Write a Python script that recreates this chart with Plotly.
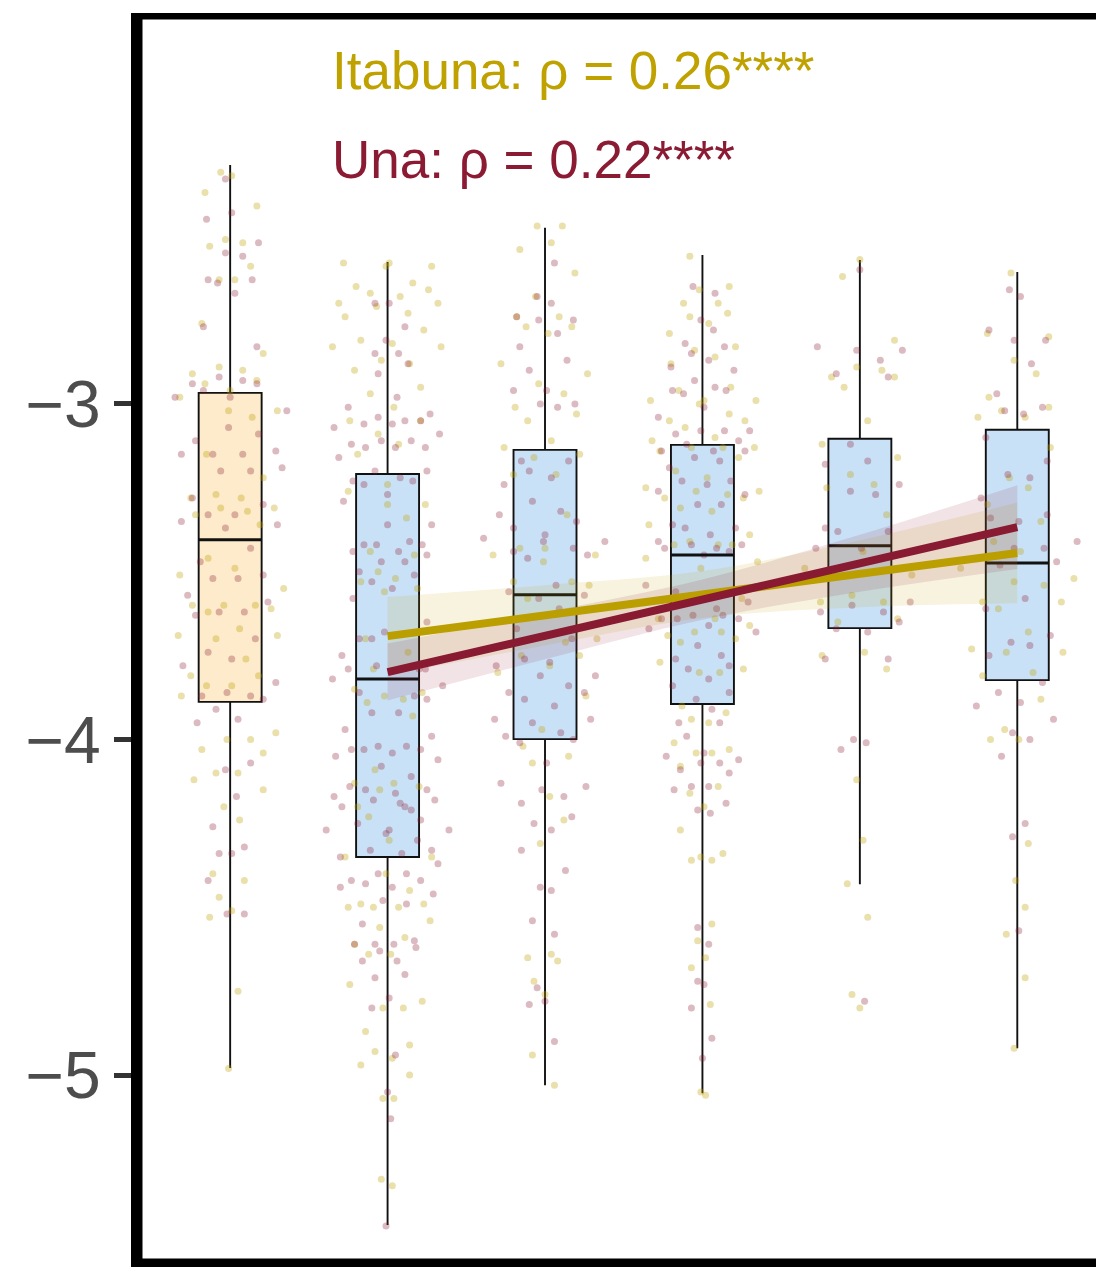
import plotly.graph_objects as go

# ---------------- data ----------------
CATS = [1, 2, 3, 4, 5, 6]
Q1 = [-3.888, -4.350, -3.999, -3.894, -3.668, -3.823]
MED = [-3.405, -3.820, -3.569, -3.450, -3.423, -3.474]
Q3 = [-2.967, -3.209, -3.137, -3.122, -3.104, -3.077]
LOW = [-4.979, -5.447, -5.030, -5.054, -4.431, -4.920]
HIGH = [-2.288, -2.577, -2.475, -2.556, -2.571, -2.607]
BOX_GROUP = ["ref", "b", "b", "b", "b", "b"]

# jittered observations: (horizontal offset from category, value)
ITA_1 = [(-0.06,-2.31),(0.01,-2.32),(-0.16,-2.37),(0.17,-2.41),(-0.13,-2.53),(-0.03,-2.51),(0.08,-2.52),(0.13,-2.59),(-0.07,-2.63),(0.03,-2.63),(-0.18,-2.76),(0.21,-2.85),(-0.24,-2.91),(-0.07,-2.89),(0.08,-2.90),(-0.16,-2.94),(0.17,-2.93),(-0.32,-2.98),(0.00,-2.96),(0.30,-3.02),(-0.01,-3.02),(0.14,-3.04),(-0.15,-3.15),(0.21,-3.22),(-0.25,-3.28),(-0.09,-3.27),(0.07,-3.28),(-0.22,-3.33),(-0.06,-3.31),(0.11,-3.32),(0.28,-3.31),(0.19,-3.36),(-0.14,-3.46),(-0.32,-3.51),(0.03,-3.49),(-0.24,-3.60),(-0.14,-3.62),(-0.04,-3.60),(0.16,-3.60),(0.26,-3.61),(0.34,-3.55),(-0.33,-3.69),(-0.09,-3.70),(0.06,-3.67),(0.30,-3.69),(-0.25,-3.81),(0.10,-3.76),(0.18,-3.81),(-0.31,-3.87),(-0.15,-3.84),(0.01,-3.84),(0.29,-3.98),(-0.02,-4.00),(0.13,-4.00),(-0.18,-4.03),(0.21,-4.04),(-0.09,-4.10),(0.05,-4.10),(-0.23,-4.12),(0.21,-4.15),(-0.04,-4.20),(0.06,-4.24),(-0.11,-4.40),(0.09,-4.42),(-0.07,-4.47),(0.01,-4.51),(-0.13,-4.53),(0.05,-4.75),(-0.01,-4.98)]
UNA_1 = [(-0.03,-2.33),(-0.15,-2.45),(0.01,-2.43),(0.18,-2.52),(-0.03,-2.55),(0.08,-2.56),(-0.14,-2.63),(-0.08,-2.64),(0.14,-2.63),(0.03,-2.67),(-0.17,-2.77),(0.17,-2.83),(-0.24,-2.94),(-0.07,-2.92),(0.08,-2.93),(0.17,-2.94),(-0.35,-2.98),(-0.17,-2.96),(0.00,-2.98),(0.36,-3.02),(-0.01,-3.07),(0.18,-3.09),(-0.22,-3.11),(-0.31,-3.15),(-0.11,-3.15),(0.08,-3.15),(0.29,-3.14),(-0.06,-3.20),(0.13,-3.20),(0.33,-3.19),(-0.24,-3.28),(-0.31,-3.35),(-0.14,-3.33),(0.03,-3.33),(0.21,-3.30),(-0.03,-3.37),(0.30,-3.36),(0.13,-3.43),(-0.19,-3.47),(-0.11,-3.52),(0.05,-3.52),(0.21,-3.51),(-0.27,-3.57),(-0.22,-3.63),(-0.07,-3.62),(0.09,-3.62),(0.24,-3.59),(0.16,-3.70),(-0.14,-3.74),(-0.30,-3.78),(0.01,-3.76),(0.29,-3.83),(-0.02,-3.86),(-0.18,-3.87),(0.13,-3.87),(0.21,-3.88),(-0.09,-3.91),(0.05,-3.94),(-0.21,-3.95),(0.13,-4.07),(-0.03,-4.09),(0.04,-4.17),(-0.11,-4.26),(-0.07,-4.34),(0.01,-4.34),(0.09,-4.32),(-0.14,-4.42),(-0.02,-4.52),(0.09,-4.52)]
ITA_2 = [(-0.28,-2.58),(-0.01,-2.59),(0.01,-2.58),(0.28,-2.59),(-0.20,-2.65),(-0.11,-2.67),(0.16,-2.64),(0.26,-2.66),(-0.31,-2.70),(-0.27,-2.74),(-0.07,-2.71),(0.08,-2.68),(0.32,-2.70),(0.13,-2.73),(0.23,-2.78),(-0.35,-2.83),(-0.17,-2.81),(0.03,-2.82),(0.34,-2.83),(-0.04,-2.87),(0.14,-2.88),(-0.21,-2.90),(0.21,-2.95),(-0.11,-2.97),(0.04,-3.01),(-0.24,-3.05),(0.21,-3.05),(-0.06,-3.09),(0.07,-3.12),(-0.19,-3.15),(-0.25,-3.26),(0.00,-3.24),(0.24,-3.30),(0.00,-3.30),(0.12,-3.34),(-0.11,-3.44),(0.17,-3.45),(-0.17,-3.53),(-0.06,-3.50),(-0.02,-3.56),(0.05,-3.52),(0.19,-3.55),(-0.14,-3.70),(-0.09,-3.79),(0.13,-3.74),(-0.21,-3.85),(-0.13,-3.89),(-0.02,-3.87),(0.10,-3.88),(0.22,-3.86),(0.16,-3.93),(-0.08,-4.09),(-0.21,-4.13),(-0.05,-4.15),(0.04,-4.13),(-0.19,-4.20),(0.20,-4.14),(-0.12,-4.23),(0.01,-4.30),(0.28,-4.35),(-0.27,-4.35),(-0.01,-4.40),(0.14,-4.45),(-0.25,-4.50),(-0.17,-4.49),(-0.09,-4.50),(0.07,-4.50),(0.23,-4.49),(-0.05,-4.56),(0.27,-4.54),(-0.21,-4.61),(-0.12,-4.64),(0.11,-4.59),(0.02,-4.64),(-0.24,-4.73),(0.22,-4.78),(-0.03,-4.80),(0.10,-4.80),(-0.14,-4.87),(-0.08,-4.93),(0.03,-4.95),(0.14,-4.91),(-0.17,-4.97),(0.14,-5.00),(-0.03,-5.07),(0.04,-5.07),(-0.04,-5.31),(0.03,-5.33)]
UNA_2 = [(-0.08,-2.70),(0.01,-2.70),(0.11,-2.77),(-0.01,-2.81),(-0.08,-2.85),(0.07,-2.85),(0.13,-2.88),(-0.06,-2.91),(0.06,-2.98),(-0.25,-3.01),(0.27,-3.03),(-0.34,-3.07),(-0.15,-3.06),(-0.06,-3.04),(0.03,-3.06),(0.11,-3.05),(0.21,-3.05),(0.33,-3.09),(-0.23,-3.12),(-0.14,-3.13),(-0.04,-3.11),(0.05,-3.13),(0.15,-3.11),(0.24,-3.13),(-0.31,-3.16),(-0.08,-3.20),(0.25,-3.20),(-0.22,-3.23),(-0.28,-3.29),(-0.15,-3.24),(0.00,-3.27),(0.08,-3.22),(0.16,-3.23),(0.00,-3.36),(0.28,-3.36),(-0.22,-3.44),(-0.15,-3.42),(-0.07,-3.42),(-0.04,-3.47),(0.07,-3.44),(0.11,-3.47),(0.14,-3.41),(0.22,-3.42),(0.25,-3.45),(-0.18,-3.50),(-0.10,-3.53),(0.03,-3.55),(0.17,-3.51),(-0.22,-3.58),(0.25,-3.65),(-0.18,-3.70),(-0.10,-3.70),(-0.02,-3.68),(-0.29,-3.75),(-0.25,-3.79),(-0.07,-3.78),(0.20,-3.79),(-0.35,-3.82),(0.24,-3.79),(-0.18,-3.86),(-0.10,-3.92),(0.17,-3.87),(0.25,-3.88),(0.35,-3.84),(-0.27,-3.97),(0.07,-3.92),(0.28,-3.99),(-0.33,-4.05),(-0.23,-4.03),(-0.15,-4.03),(-0.06,-4.02),(0.03,-4.04),(0.12,-4.02),(0.21,-4.03),(0.32,-4.06),(-0.04,-4.08),(0.15,-4.11),(-0.24,-4.14),(-0.14,-4.15),(0.05,-4.16),(0.08,-4.19),(0.25,-4.15),(0.30,-4.18),(-0.34,-4.17),(-0.29,-4.20),(-0.09,-4.18),(0.11,-4.20),(0.15,-4.21),(-0.19,-4.25),(0.21,-4.24),(-0.39,-4.27),(-0.01,-4.28),(0.01,-4.27),(0.19,-4.30),(0.39,-4.27),(-0.11,-4.33),(0.09,-4.34),(0.28,-4.33),(-0.30,-4.35),(0.32,-4.37),(-0.06,-4.40),(0.12,-4.40),(-0.23,-4.42),(-0.14,-4.43),(0.21,-4.42),(-0.30,-4.44),(0.03,-4.44),(0.29,-4.46),(-0.03,-4.48),(0.12,-4.49),(-0.16,-4.55),(-0.21,-4.61),(-0.08,-4.61),(-0.05,-4.63),(0.04,-4.61),(0.17,-4.60),(0.18,-4.62),(-0.16,-4.66),(0.06,-4.66),(0.11,-4.70),(-0.08,-4.71),(0.01,-4.77),(-0.10,-4.80),(0.05,-4.94),(0.00,-5.05),(0.02,-5.13),(-0.01,-5.45)]
ITA_3 = [(-0.05,-2.47),(0.11,-2.47),(-0.16,-2.54),(0.04,-2.52),(0.19,-2.61),(-0.06,-2.68),(-0.18,-2.74),(-0.12,-2.77),(0.09,-2.74),(0.17,-2.77),(0.02,-2.79),(-0.28,-2.88),(0.27,-2.91),(-0.04,-2.94),(0.12,-2.97),(-0.19,-3.01),(0.20,-3.03),(-0.11,-3.05),(0.04,-3.11),(-0.26,-3.13),(-0.07,-3.16),(0.22,-3.15),(-0.20,-3.21),(0.07,-3.21),(0.14,-3.33),(-0.33,-3.45),(-0.16,-3.43),(0.00,-3.43),(0.32,-3.45),(-0.01,-3.47),(-0.20,-3.53),(0.17,-3.53),(-0.11,-3.58),(0.28,-3.54),(0.13,-3.71),(-0.15,-3.75),(0.03,-3.78),(0.22,-3.75),(0.33,-3.70),(-0.30,-3.80),(0.26,-3.87),(-0.02,-3.97),(-0.14,-4.02),(-0.08,-4.07),(0.15,-4.05),(0.03,-4.17),(0.12,-4.24),(-0.03,-4.31),(-0.11,-4.65),(0.04,-4.64),(0.08,-4.66),(-0.07,-4.72),(0.00,-4.76),(-0.08,-4.94),(0.06,-5.03)]
UNA_3 = [(0.06,-2.58),(-0.05,-2.68),(0.04,-2.70),(-0.18,-2.74),(-0.04,-2.75),(0.18,-2.75),(0.08,-2.79),(-0.16,-2.83),(0.14,-2.87),(-0.10,-2.90),(-0.20,-2.96),(0.01,-2.96),(-0.03,-3.00),(0.08,-3.01),(0.19,-3.00),(-0.15,-3.17),(0.15,-3.17),(-0.10,-3.20),(0.04,-3.22),(-0.26,-3.24),(-0.08,-3.29),(0.10,-3.32),(-0.29,-3.33),(0.20,-3.35),(-0.20,-3.37),(0.00,-3.39),(-0.39,-3.40),(-0.01,-3.41),(-0.20,-3.44),(-0.11,-3.46),(0.18,-3.43),(0.27,-3.45),(0.38,-3.41),(-0.23,-3.56),(0.07,-3.54),(-0.04,-3.58),(0.25,-3.57),(0.09,-3.61),(-0.18,-3.67),(0.17,-3.70),(-0.13,-3.76),(0.03,-3.77),(-0.31,-3.78),(-0.03,-3.81),(0.15,-3.84),(0.32,-3.81),(-0.23,-3.86),(0.25,-3.86),(-0.13,-3.88),(0.06,-3.90),(-0.32,-3.94),(0.29,-3.94),(-0.08,-3.95),(0.10,-3.98),(-0.25,-3.99),(-0.16,-4.01),(0.18,-4.00),(0.01,-4.07),(-0.28,-4.13),(0.26,-4.14),(-0.15,-4.19),(-0.02,-4.15),(0.12,-4.17),(-0.07,-4.25),(0.04,-4.27),(0.17,-4.23),(-0.15,-4.33),(0.13,-4.39),(-0.03,-4.44),(0.04,-4.45),(-0.08,-4.54),(0.06,-4.58),(-0.05,-4.74),(-0.10,-4.79),(0.00,-4.78),(0.06,-4.90)]
ITA_4 = [(-0.08,-2.56),(-0.02,-2.66),(0.17,-2.65),(-0.12,-2.70),(0.10,-2.70),(0.16,-2.73),(-0.08,-2.74),(0.04,-2.76),(-0.21,-2.79),(-0.05,-2.84),(0.08,-2.86),(0.21,-2.83),(-0.20,-2.88),(-0.15,-2.96),(0.18,-2.95),(-0.02,-3.00),(0.01,-2.99),(-0.33,-2.99),(0.34,-2.99),(-0.21,-3.05),(-0.11,-3.07),(0.17,-3.03),(0.27,-3.05),(-0.32,-3.11),(0.08,-3.10),(-0.27,-3.14),(0.23,-3.16),(0.33,-3.13),(-0.07,-3.13),(0.13,-3.13),(-0.17,-3.20),(0.03,-3.22),(-0.36,-3.25),(-0.24,-3.28),(-0.04,-3.26),(0.16,-3.27),(0.26,-3.28),(0.36,-3.26),(-0.14,-3.31),(0.06,-3.32),(-0.34,-3.36),(0.30,-3.39),(-0.18,-3.42),(-0.08,-3.41),(0.10,-3.42),(0.19,-3.42),(-0.36,-3.46),(0.35,-3.47),(-0.01,-3.49),(-0.09,-3.58),(0.25,-3.58),(-0.28,-3.64),(0.08,-3.64),(0.30,-3.66),(-0.22,-3.69),(-0.14,-3.71),(-0.05,-3.68),(0.12,-3.68),(0.21,-3.70),(-0.27,-3.77),(-0.02,-3.80),(0.11,-3.80),(0.26,-3.79),(-0.13,-3.90),(0.15,-3.92),(-0.07,-3.94),(0.04,-3.95),(-0.18,-4.01),(-0.04,-4.04),(0.06,-4.04),(0.17,-4.03),(-0.14,-4.08),(0.10,-4.14),(-0.08,-4.16),(0.01,-4.20),(-0.14,-4.27),(-0.07,-4.36),(-0.01,-4.35),(0.06,-4.36),(0.13,-4.34),(0.06,-4.55),(-0.03,-4.60),(0.02,-4.65),(-0.07,-4.68),(0.05,-4.79),(-0.01,-5.05),(0.02,-5.06)]
UNA_4 = [(-0.06,-2.65),(0.08,-2.67),(-0.01,-2.75),(0.07,-2.78),(-0.11,-2.82),(-0.07,-2.85),(0.04,-2.87),(0.14,-2.83),(-0.20,-2.89),(0.20,-2.90),(-0.05,-2.93),(0.08,-2.95),(-0.19,-2.96),(-0.12,-2.97),(0.15,-2.96),(0.01,-3.01),(-0.28,-3.04),(-0.01,-3.08),(0.30,-3.08),(-0.17,-3.09),(-0.10,-3.12),(0.14,-3.08),(0.23,-3.11),(-0.26,-3.14),(0.27,-3.14),(-0.05,-3.16),(0.07,-3.14),(0.11,-3.17),(-0.21,-3.19),(-0.13,-3.23),(0.03,-3.24),(0.18,-3.23),(-0.28,-3.26),(0.27,-3.27),(-0.03,-3.30),(0.12,-3.30),(-0.19,-3.36),(-0.11,-3.37),(0.05,-3.39),(0.21,-3.37),(-0.28,-3.41),(-0.24,-3.43),(-0.07,-3.42),(0.09,-3.43),(0.17,-3.44),(0.25,-3.42),(0.01,-3.45),(-0.36,-3.54),(-0.17,-3.56),(0.09,-3.61),(0.29,-3.59),(-0.34,-3.67),(-0.26,-3.64),(-0.16,-3.64),(-0.06,-3.63),(0.04,-3.66),(0.13,-3.63),(0.23,-3.64),(0.34,-3.68),(-0.03,-3.72),(-0.17,-3.76),(-0.09,-3.79),(0.04,-3.82),(0.17,-3.78),(0.12,-3.75),(-0.19,-3.84),(-0.04,-3.88),(0.17,-3.86),(0.06,-3.91),(-0.15,-3.95),(0.11,-3.95),(-0.10,-3.99),(0.01,-4.04),(-0.23,-4.05),(-0.01,-4.07),(0.11,-4.07),(0.23,-4.06),(-0.14,-4.09),(0.17,-4.10),(-0.07,-4.14),(0.04,-4.14),(-0.18,-4.15),(0.15,-4.19),(-0.03,-4.21),(0.05,-4.22),(-0.03,-4.56),(0.04,-4.61),(-0.03,-4.72),(0.01,-4.73),(-0.07,-4.80),(0.06,-4.89),(0.00,-4.95)]
ITA_5 = [(0.00,-2.57),(-0.11,-2.62),(0.22,-2.81),(-0.02,-2.89),(0.14,-2.90),(-0.18,-2.92),(0.22,-2.92),(-0.10,-2.95),(0.05,-3.05),(-0.24,-3.12),(0.24,-3.16),(-0.06,-3.21),(-0.21,-3.25),(0.09,-3.24),(0.17,-3.33),(0.02,-3.44),(-0.35,-3.49),(0.33,-3.51),(-0.05,-3.57),(-0.25,-3.59),(0.15,-3.59),(0.24,-3.64),(-0.14,-3.65),(0.03,-3.74),(-0.24,-3.75),(0.17,-3.79),(-0.02,-4.12),(0.02,-4.30),(-0.08,-4.43),(0.05,-4.53),(-0.05,-4.76),(0.00,-4.80)]
UNA_5 = [(0.00,-2.60),(-0.27,-2.83),(-0.02,-2.84),(0.27,-2.84),(0.13,-2.87),(-0.15,-2.91),(0.18,-2.92),(-0.06,-3.12),(-0.22,-3.18),(0.05,-3.17),(-0.06,-3.26),(0.10,-3.27),(0.25,-3.24),(-0.22,-3.37),(-0.14,-3.38),(0.18,-3.38),(-0.28,-3.43),(0.01,-3.43),(-0.05,-3.60),(0.15,-3.62),(0.32,-3.59),(-0.25,-3.62),(0.25,-3.65),(-0.15,-3.67),(0.05,-3.68),(-0.22,-3.76),(0.18,-3.76),(-0.04,-4.00),(0.04,-4.01),(-0.12,-4.03),(0.03,-4.78)]
ITA_6 = [(-0.04,-2.61),(-0.19,-2.79),(0.20,-2.80),(-0.02,-2.87),(0.12,-2.91),(-0.18,-2.98),(-0.10,-3.02),(-0.25,-3.04),(0.05,-3.04),(0.20,-3.01),(0.21,-3.13),(-0.05,-3.22),(0.07,-3.25),(-0.19,-3.30),(0.15,-3.35),(-0.15,-3.41),(0.02,-3.44),(-0.36,-3.49),(0.36,-3.52),(-0.02,-3.53),(0.17,-3.54),(-0.22,-3.59),(0.28,-3.59),(-0.12,-3.61),(0.07,-3.68),(-0.29,-3.73),(-0.07,-3.74),(0.29,-3.74),(-0.22,-3.81),(0.10,-3.80),(0.15,-3.88),(-0.08,-3.97),(-0.17,-4.00),(0.01,-4.00),(0.07,-4.31),(-0.01,-4.42),(0.05,-4.50),(-0.07,-4.58),(0.05,-4.71),(-0.02,-4.92)]
UNA_6 = [(-0.05,-2.66),(0.02,-2.68),(-0.18,-2.78),(-0.02,-2.81),(0.18,-2.81),(0.09,-2.88),(-0.13,-2.97),(-0.08,-3.02),(0.04,-3.03),(0.16,-3.01),(-0.20,-3.10),(0.19,-3.17),(-0.06,-3.21),(0.08,-3.22),(-0.23,-3.28),(-0.17,-3.34),(0.01,-3.35),(0.19,-3.33),(-0.02,-3.43),(0.17,-3.43),(0.38,-3.41),(-0.11,-3.48),(0.25,-3.47),(0.05,-3.58),(-0.20,-3.61),(0.21,-3.69),(-0.04,-3.71),(0.08,-3.72),(-0.18,-3.75),(-0.12,-3.86),(0.16,-3.83),(-0.26,-3.90),(0.02,-3.89),(0.23,-3.94),(-0.03,-3.98),(0.08,-4.00),(-0.10,-4.05),(0.05,-4.25),(-0.03,-4.29),(0.01,-4.57)]

ITA_POINTS = [ITA_1, ITA_2, ITA_3, ITA_4, ITA_5, ITA_6]
UNA_POINTS = [UNA_1, UNA_2, UNA_3, UNA_4, UNA_5, UNA_6]

# fitted trends with confidence bands (categories 2..6)
FIT_X = [2, 3, 4, 5, 6]
ITA_FIT = [-3.692, -3.630, -3.568, -3.506, -3.444]
ITA_LO = [-3.809, -3.720, -3.638, -3.606, -3.594]
ITA_HI = [-3.575, -3.540, -3.498, -3.406, -3.294]
UNA_FIT = [-3.799, -3.691, -3.583, -3.475, -3.367]
UNA_LO = [-3.884, -3.761, -3.643, -3.560, -3.492]
UNA_HI = [-3.714, -3.621, -3.523, -3.390, -3.242]

Y_TICKS = [-3, -4, -5]
Y_TICK_TEXT = ["\u22123", "\u22124", "\u22125"]
LABEL_ITA = "Itabuna: \u03c1 = 0.26****"
LABEL_UNA = "Una: \u03c1 = 0.22****"

# ---------------- style ----------------
GOLD = "#BFA100"
MAROON = "#8B1A33"
BOX_FILL = {"ref": "#FDEBCB", "b": "#C9E1F6"}
FONT = "Liberation Sans, Arial, Helvetica, sans-serif"

W, H = 1096, 1268
ML, MR, MT, MB = 142, 0, 19, 9
PW, PH = W - ML - MR, H - MT - MB
BOX_W = 0.4

fig = go.Figure()

for i, c in enumerate(CATS):
    fig.add_trace(go.Box(
        x=[c], q1=[Q1[i]], median=[MED[i]], q3=[Q3[i]],
        lowerfence=[LOW[i]], upperfence=[HIGH[i]],
        width=BOX_W, whiskerwidth=0, boxpoints=False,
        fillcolor=BOX_FILL[BOX_GROUP[i]],
        line=dict(color="#111111", width=1.9),
        hoverinfo="skip", showlegend=False,
    ))

def pts(groups):
    xs, ys = [], []
    for c, g in zip(CATS, groups):
        for dx, v in g:
            xs.append(c + dx)
            ys.append(v)
    return xs, ys

for groups, col in [(ITA_POINTS, "rgba(191,161,0,0.33)"), (UNA_POINTS, "rgba(139,26,51,0.30)")]:
    xs, ys = pts(groups)
    fig.add_trace(go.Scatter(x=xs, y=ys, mode="markers",
                             marker=dict(size=7, color=col, line=dict(width=0)),
                             hoverinfo="skip", showlegend=False))

# thicker median bars
mx, my = [], []
for c, m in zip(CATS, MED):
    mx += [c - BOX_W / 2, c + BOX_W / 2, None]
    my += [m, m, None]
fig.add_trace(go.Scatter(x=mx, y=my, mode="lines", line=dict(color="#111111", width=3),
                         hoverinfo="skip", showlegend=False))

for lo, hi, fc in [(ITA_LO, ITA_HI, "rgba(191,161,0,0.13)"), (UNA_LO, UNA_HI, "rgba(139,26,51,0.12)")]:
    fig.add_trace(go.Scatter(x=FIT_X, y=lo, mode="lines", line=dict(width=0, shape="spline"),
                             hoverinfo="skip", showlegend=False))
    fig.add_trace(go.Scatter(x=FIT_X, y=hi, mode="lines", line=dict(width=0, shape="spline"),
                             fill="tonexty", fillcolor=fc, hoverinfo="skip", showlegend=False))

fig.add_trace(go.Scatter(x=FIT_X, y=ITA_FIT, mode="lines", line=dict(color="#BB9E00", width=8),
                         hoverinfo="skip", showlegend=False))
fig.add_trace(go.Scatter(x=FIT_X, y=UNA_FIT, mode="lines", line=dict(color="#881A32", width=8),
                         hoverinfo="skip", showlegend=False))

def px_to_py(p):
    return (H - MB - p) / PH

def px_to_px(p):
    return (p - ML) / PW

shapes = [
    dict(type="rect", xref="paper", yref="paper", x0=px_to_px(131), x1=px_to_px(142.5),
         y0=px_to_py(1267), y1=px_to_py(13), fillcolor="black", line=dict(width=0), layer="above"),
    dict(type="rect", xref="paper", yref="paper", x0=px_to_px(131), x1=px_to_px(1100),
         y0=px_to_py(19.5), y1=px_to_py(13), fillcolor="black", line=dict(width=0), layer="above"),
    dict(type="rect", xref="paper", yref="paper", x0=px_to_px(131), x1=px_to_px(1100),
         y0=px_to_py(1267), y1=px_to_py(1258.5), fillcolor="black", line=dict(width=0), layer="above"),
]

annotations = [
    dict(text=LABEL_ITA, xref="paper", yref="paper", x=px_to_px(330), y=px_to_py(70),
         xanchor="left", yanchor="middle", showarrow=False,
         font=dict(family=FONT, size=53, color=GOLD)),
    dict(text=LABEL_UNA, xref="paper", yref="paper", x=px_to_px(330), y=px_to_py(159),
         xanchor="left", yanchor="middle", showarrow=False,
         font=dict(family=FONT, size=53, color=MAROON)),
]

fig.update_layout(
    width=W, height=H,
    margin=dict(l=ML, r=MR, t=MT, b=MB, pad=0),
    paper_bgcolor="white", plot_bgcolor="white",
    shapes=shapes, annotations=annotations,
    showlegend=False,
    xaxis=dict(range=[0.44, 6.5], showticklabels=False, ticks="", showgrid=False,
               zeroline=False, showline=False, fixedrange=True),
    yaxis=dict(range=[-5.548, -1.853], tickvals=Y_TICKS, ticktext=Y_TICK_TEXT,
               ticks="outside", ticklen=27, tickwidth=5, tickcolor="#333333",
               tickfont=dict(family=FONT, size=66, color="#4D4D4D"),
               showgrid=False, zeroline=False, showline=False, fixedrange=True),
)

fig.write_html(
    "out.html",
    config={"displayModeBar": False},
    post_script="document.body.style.margin='0px';document.body.style.overflow='hidden';",
)
